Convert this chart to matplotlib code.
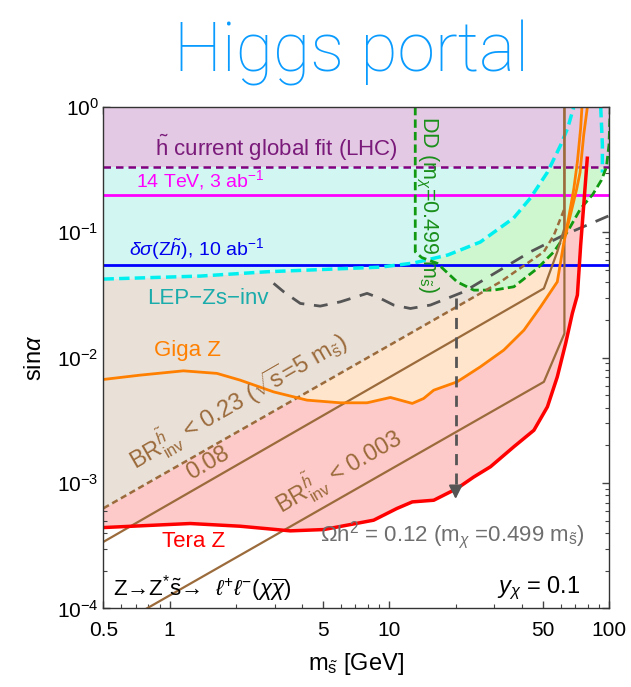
import matplotlib
matplotlib.use("Agg")
import matplotlib.pyplot as plt
from matplotlib.ticker import FixedLocator, NullFormatter, FixedFormatter

plt.rcParams['font.family'] = ['Liberation Sans', 'DejaVu Sans']
plt.rcParams['mathtext.fontset'] = 'custom'
plt.rcParams['mathtext.rm'] = 'Liberation Sans'
plt.rcParams['mathtext.it'] = 'Liberation Sans:italic'
plt.rcParams['mathtext.bf'] = 'Liberation Sans:bold'

# ---------------- data ----------------
# Tera Z (red)
tera_x = [0.5, 1.24, 2.09, 3.54, 5.02, 8.47, 10.8, 12.7, 15.9, 20.3, 24.2, 28.8,
          36.8, 45.4, 52.3, 58.0, 63.3, 67.9, 71.6, 74.1, 76.7, 79.4]
tera_y = [4.42e-4, 4.76e-4, 4.53e-4, 4.16e-4, 4.26e-4, 5.06e-4, 6.27e-4, 7.08e-4,
          7.3e-4, 9.06e-4, 1.12e-3, 1.35e-3, 1.95e-3, 2.64e-3, 4.06e-3, 7.04e-3,
          0.013, 0.0226, 0.0316, 0.0792, 0.175, 0.39]

# Giga Z (orange)
giga_x = [0.5, 0.733, 1.155, 1.64, 2.09, 2.97, 4.21, 5.97, 7.91, 10.1, 12.7, 14.3,
          15.9, 20.3, 25.9, 33.1, 40.9, 48.7, 58.0, 62.2, 66.7, 71.0, 73.6, 76.5, 79.5]
giga_y = [6.71e-3, 7.26e-3, 7.86e-3, 7.5e-3, 6.63e-3, 5.34e-3, 4.59e-3, 4.37e-3,
          4.37e-3, 4.82e-3, 4.32e-3, 4.73e-3, 5.51e-3, 6.42e-3, 8.46e-3, 0.0115,
          0.0166, 0.0255, 0.0403, 0.0841, 0.14, 0.22, 0.3, 0.6, 1.0]
giga2_x = [63.5, 66.7, 69.0, 71.6, 74.1, 75.1]
giga2_y = [0.1, 0.16, 0.224, 0.366, 0.68, 1.0]

# BR_inv lines (brown)
br023_x = [0.5, 10.1, 32.0, 50.4, 56.0, 62.2]
br023_y = [6.3e-4, 0.0127, 0.0403, 0.070, 0.0952, 0.151]
br008_x = [0.5, 50.4, 58.0, 62.5, 62.5]
br008_y = [3.4e-4, 0.0357, 0.070, 0.108, 1.0]
br0003_x = [0.787, 50.4, 62.5, 62.5]
br0003_y = [1e-4, 6.42e-3, 0.0156, 1.0]

# LEP-Zs-inv (cyan)
lep_x = [0.5, 1.38, 2.78, 9.1, 12.85, 18.4, 25.9, 36.7, 43.8, 52.4, 60.1, 64.7, 68.9]
lep_y = [0.0424, 0.0448, 0.0485, 0.0528, 0.0569, 0.0659, 0.0837, 0.130, 0.188,
         0.303, 0.497, 0.68, 1.0]
lep2_x = [91.4, 93.0, 93.0]
lep2_y = [1.0, 0.5, 0.3]

# Direct detection (green)
dd_x = [13.1, 13.1, 14.0, 16.5, 20.3, 24.2, 29.8, 36.8, 47.1, 56.0, 64.5, 74.1,
        84.0, 92.0, 97.0, 99.7, 101.0]
dd_y = [1.0, 0.070, 0.063, 0.0566, 0.0403, 0.0346, 0.0346, 0.0368, 0.0516, 0.070,
        0.101, 0.155, 0.2, 0.26, 0.33, 0.5, 1.0]

# Relic density (gray)
relic_x = [2.97, 3.30, 3.93, 4.84, 5.97, 7.91, 9.1, 10.45, 12.45, 15.35, 21.8, 30.9,
           43.8, 62.2, 101.0]
relic_y = [0.0392, 0.0336, 0.0271, 0.0258, 0.0279, 0.0326, 0.0297, 0.0263, 0.0247,
           0.0263, 0.0336, 0.0485, 0.070, 0.0952, 0.137]
arrow_x = 20.0
arrow_y = [0.03, 7.1e-4]

# horizontal limits
lhc_fit = 0.33
hl_lhc = 0.2
zh_10ab = 0.055

xticks = [0.5, 1, 5, 10, 50, 100]
xticklabels = ['0.5', '1', '5', '10', '50', '100']
yticks = [1e-4, 1e-3, 1e-2, 1e-1, 1]
yticklabels = [r'$10^{-4}$', r'$10^{-3}$', r'$10^{-2}$', r'$10^{-1}$', r'$10^{0}$']

# ---------------- figure ----------------
fig = plt.figure(figsize=(6.31, 6.87), dpi=100)
ax = fig.add_axes([0.164, 0.1143, 0.8016, 0.730])
ax.set_xscale('log')
ax.set_yscale('log')
ax.set_xlim(0.5, 100)
ax.set_ylim(1e-4, 1)

# fills
ax.fill_between(tera_x, tera_y, 1, color='#fdc9c9', lw=0, zorder=1)
ax.fill_between(giga_x, giga_y, 1, color='#ffe5cc', lw=0, zorder=2)
ax.fill_between(br023_x, br023_y, 1, color='#e9e0d8', lw=0, zorder=3)
ax.fill(dd_x, dd_y, color='#cff7cf', lw=0, zorder=4)
ax.fill_between(lep_x, lep_y, 1, color='#d2f7f2', lw=0, zorder=5)
ax.axhspan(lhc_fit, 1, color='#e3c9e3', lw=0, zorder=6)

# lines
ax.axhline(lhc_fit, color='#800080', lw=1.8, ls=(0, (3, 2)), zorder=10)
ax.axhline(hl_lhc, color='#ff00ff', lw=2, zorder=10)
ax.axhline(zh_10ab, color='#0000ff', lw=2, zorder=10)
ax.plot(lep_x, lep_y, color='#00f0f0', lw=2.5, ls=(0, (3, 1.5)), zorder=11)
ax.plot(lep2_x, lep2_y, color='#00f0f0', lw=2.5, ls=(0, (3, 1.5)), zorder=11)
ax.plot(dd_x, dd_y, color='#119911', lw=2, ls=(0, (3, 1.5)), zorder=11)
ax.plot(relic_x, relic_y, color='#555555', lw=2, ls=(0, (5, 3.5)), zorder=11)
ax.plot(br023_x, br023_y, color='#9b6b3b', lw=1.8, ls=(0, (2.5, 1.5)), zorder=12)
ax.plot(br008_x, br008_y, color='#9b6b3b', lw=1.6, zorder=12)
ax.plot(br0003_x, br0003_y, color='#9b6b3b', lw=1.6, zorder=12)
ax.plot(giga_x, giga_y, color='#ff8000', lw=2, zorder=13)
ax.plot(giga2_x, giga2_y, color='#ff8000', lw=2, zorder=13)
ax.plot(tera_x, tera_y, color='#ff0000', lw=2.5, zorder=14)
ax.plot([arrow_x, arrow_x], [arrow_y[0], arrow_y[1] * 1.25], color='#555555', lw=2,
        ls=(0, (4, 3)), zorder=15)
ax.annotate('', xy=(arrow_x, arrow_y[1]), xytext=(arrow_x, arrow_y[1] * 1.35),
            arrowprops=dict(arrowstyle='-|>', color='#555555', lw=1.5,
                            mutation_scale=20), zorder=15)

# labels
fs = 16
ax.text(0.86, 0.355, r'$\tilde{\mathrm{h}}$ current global fit (LHC)', color='#7a1a7a',
        fontsize=16, va='bottom', ha='left', zorder=20)
ax.text(0.70, 0.208, r'14 TeV, 3 ab$^{-1}$', color='#ff00ff', fontsize=14,
        va='bottom', ha='left', zorder=20)
ax.text(0.65, 0.058, r'$\delta\sigma$(Z$\tilde{h}$), 10 ab$^{-1}$', color='#0000ee',
        fontsize=14, va='bottom', ha='left', zorder=20)
ax.text(0.79, 0.0299, 'LEP\u2212Zs\u2212inv', color='#1aabab', fontsize=fs,
        va='center', ha='left', zorder=20)
ax.text(0.845, 0.0115, 'Giga Z', color='#ff8000', fontsize=fs, va='center',
        ha='left', zorder=20)
ax.text(0.70, 1.25e-3,
        r'BR$^{\tilde{h}}_{\mathrm{inv}}$ < 0.23 ($\sqrt{\mathrm{s}}$=5 m$_{\tilde{\mathrm{s}}}$)',
        color='#9b6b3b', fontsize=17, rotation=30, rotation_mode='anchor',
        va='baseline', ha='left', zorder=20)
ax.text(1.25, 1.05e-3, '0.08', color='#9b6b3b', fontsize=17, rotation=30,
        rotation_mode='anchor', va='baseline', ha='left', zorder=20)
ax.text(3.25, 5.6e-4, r'BR$^{\tilde{h}}_{\mathrm{inv}}$ < 0.003', color='#9b6b3b',
        fontsize=17, rotation=30, rotation_mode='anchor', va='baseline', ha='left',
        zorder=20)
ax.text(1.29, 3.44e-4, 'Tera Z', color='#ff0000', fontsize=fs, va='center',
        ha='center', zorder=20)
ax.text(4.84, 3.84e-4,
        r'$\Omega$h$^2$ = 0.12 (m$_{\chi}$ =0.499 m$_{\tilde{\mathrm{s}}}$)',
        color='#6e6e6e', fontsize=fs, va='center', ha='left', zorder=20)
ax.text(0.553, 1.45e-4,
        'Z\u2192Z' + r'$^{*}\tilde{\mathrm{s}}$' + '\u2192  ' +
        r'$\ell^{+}\ell^{-}(\chi\overline{\chi})$',
        color='black', fontsize=fs, va='center', ha='left', zorder=20)
ax.text(74.1, 1.45e-4, r'$y_{\chi}$ = 0.1', color='black', fontsize=17,
        va='center', ha='right', zorder=20)
ax.text(14.8, 0.165, r'DD (m$_{\chi}$=0.499 m$_{\tilde{\mathrm{s}}}$)', color='#1a8f1a',
        fontsize=15.5, rotation=-90, va='center', ha='center', zorder=20)

# axes styling
ax.xaxis.set_major_locator(FixedLocator(xticks))
ax.xaxis.set_major_formatter(FixedFormatter(xticklabels))
minor_x = [0.6, 0.7, 0.8, 0.9, 2, 3, 4, 6, 7, 8, 9, 20, 30, 40, 60, 70, 80, 90]
ax.xaxis.set_minor_locator(FixedLocator(minor_x))
ax.xaxis.set_minor_formatter(NullFormatter())
ax.yaxis.set_major_locator(FixedLocator(yticks))
ax.yaxis.set_major_formatter(FixedFormatter(yticklabels))
ax.tick_params(which='both', direction='in', top=True, right=True, labelsize=15,
               color='#444444')
ax.tick_params(which='major', length=5, width=1)
ax.tick_params(which='minor', length=3, width=0.8)
ax.tick_params(axis='x', which='major', pad=9)
for s in ax.spines.values():
    s.set_linewidth(1.0)
    s.set_color('#333333')
    s.set_zorder(30)

ax.set_ylabel(r'sin$\alpha$', fontsize=17, labelpad=8)
ax.set_xlabel(r'm$_{\tilde{\mathrm{s}}}$ [GeV]', fontsize=17, labelpad=8)

fig.text(352 / 631, 1 - 71 / 687, 'Higgs portal', color='#0a9bff', fontsize=49,
         family=['Roboto', 'Liberation Sans'], fontweight='light',
         ha='center', va='baseline')

fig.savefig('out.png', dpi=100)
